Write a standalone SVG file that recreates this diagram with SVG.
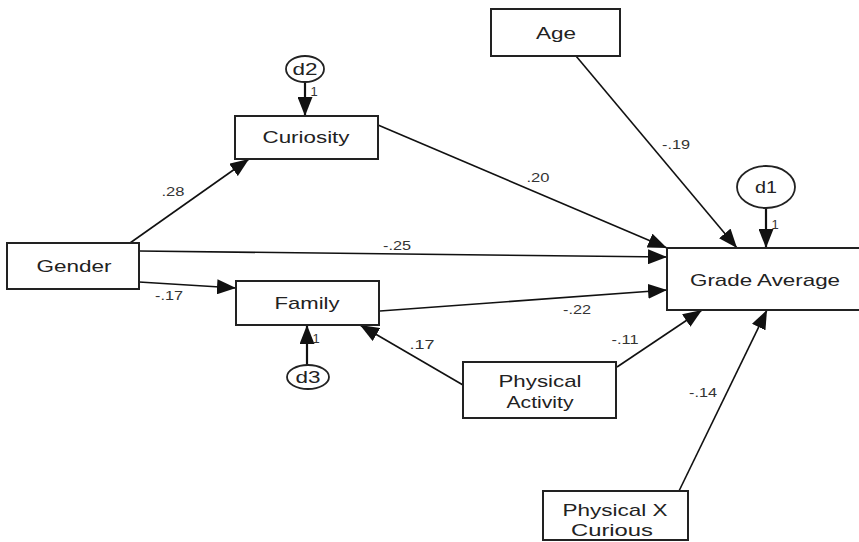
<svg xmlns="http://www.w3.org/2000/svg" width="859" height="542" viewBox="0 0 859 542">
<style>
.box{fill:#fff;stroke:#222;stroke-width:2}
.lat{fill:#fff;stroke:#222;stroke-width:1.8}
.t{font-family:"Liberation Sans",Arial,sans-serif;font-size:17px;fill:#222;text-anchor:middle}
.c{font-family:"Liberation Sans",Arial,sans-serif;font-size:13px;fill:#333;text-anchor:middle}
.e{stroke:#111;stroke-width:1.6;fill:none;marker-end:url(#ah)}
.ed{stroke:#111;stroke-width:2.2;fill:none;marker-end:url(#ah)}
</style>
<defs>
<marker id="ah" markerUnits="userSpaceOnUse" markerWidth="20" markerHeight="15" refX="19" refY="7.5" orient="auto">
<path d="M0,0 L19,7.5 L0,15 Z" fill="#111"/>
</marker>
</defs>
<rect width="859" height="542" fill="#fff"/>
<g id="connectors">
<line class="e" x1="130" y1="243" x2="249" y2="159"/>
<line class="e" x1="139" y1="251" x2="667" y2="257"/>
<line class="e" x1="139" y1="282" x2="236" y2="288"/>
<line class="e" x1="378" y1="125" x2="667" y2="248"/>
<line class="e" x1="380" y1="311" x2="667" y2="290"/>
<line class="e" x1="576" y1="56" x2="737" y2="248"/>
<line class="e" x1="463" y1="385" x2="360" y2="325"/>
<line class="e" x1="617" y1="367" x2="702" y2="310"/>
<line class="e" x1="679" y1="491" x2="767" y2="310"/>
<line class="ed" x1="305" y1="82" x2="305" y2="116"/>
<line class="ed" x1="307" y1="365" x2="307" y2="325"/>
<line class="ed" x1="766" y1="208" x2="766" y2="248"/>
<text class="c" x="173" y="196" textLength="23" lengthAdjust="spacingAndGlyphs">.28</text>
<text class="c" x="397" y="250" textLength="28" lengthAdjust="spacingAndGlyphs">-.25</text>
<text class="c" x="169" y="300" textLength="28" lengthAdjust="spacingAndGlyphs">-.17</text>
<text class="c" x="538" y="182" textLength="23" lengthAdjust="spacingAndGlyphs">.20</text>
<text class="c" x="577" y="314" textLength="28" lengthAdjust="spacingAndGlyphs">-.22</text>
<text class="c" x="676" y="149" textLength="28" lengthAdjust="spacingAndGlyphs">-.19</text>
<text class="c" x="422" y="349" textLength="25" lengthAdjust="spacingAndGlyphs">.17</text>
<text class="c" x="625" y="344" textLength="27" lengthAdjust="spacingAndGlyphs">-.11</text>
<text class="c" x="703" y="397" textLength="28" lengthAdjust="spacingAndGlyphs">-.14</text>
<text class="c" x="314" y="96">1</text>
<text class="c" x="316" y="343">1</text>
<text class="c" x="775" y="229">1</text>
</g>
<g id="age"><rect class="box" x="491" y="9" width="129" height="47"/><text class="t" x="556" y="39" textLength="40" lengthAdjust="spacingAndGlyphs">Age</text></g>
<g id="curiosity"><rect class="box" x="235" y="116" width="143" height="43"/><text class="t" x="306" y="143" textLength="87" lengthAdjust="spacingAndGlyphs">Curiosity</text></g>
<g id="gender"><rect class="box" x="7" y="243" width="132" height="46"/><text class="t" x="74" y="272" textLength="75" lengthAdjust="spacingAndGlyphs">Gender</text></g>
<g id="family"><rect class="box" x="236" y="281" width="143" height="44"/><text class="t" x="307" y="309" textLength="65" lengthAdjust="spacingAndGlyphs">Family</text></g>
<g id="grade"><rect class="box" x="667" y="248" width="200" height="62"/><text class="t" x="765" y="286" textLength="150" lengthAdjust="spacingAndGlyphs">Grade Average</text></g>
<g id="physical"><rect class="box" x="463" y="362" width="153" height="56"/><text class="t" x="540" y="387" textLength="83" lengthAdjust="spacingAndGlyphs">Physical</text><text class="t" x="540" y="408" textLength="67" lengthAdjust="spacingAndGlyphs">Activity</text></g>
<g id="pxc"><rect class="box" x="543" y="491" width="145" height="49"/><text class="t" x="615" y="516" textLength="105" lengthAdjust="spacingAndGlyphs">Physical X</text><text class="t" x="612" y="536" textLength="82" lengthAdjust="spacingAndGlyphs">Curious</text></g>
<g id="d1"><ellipse class="lat" cx="766" cy="187" rx="29" ry="21"/><text class="t" x="766" y="193" textLength="22" lengthAdjust="spacingAndGlyphs">d1</text></g>
<g id="d2"><ellipse class="lat" cx="305" cy="69" rx="19" ry="13"/><text class="t" x="305" y="75" textLength="25" lengthAdjust="spacingAndGlyphs">d2</text></g>
<g id="d3"><ellipse class="lat" cx="308" cy="377" rx="21" ry="12"/><text class="t" x="308" y="383" textLength="25" lengthAdjust="spacingAndGlyphs">d3</text></g>
</svg>
